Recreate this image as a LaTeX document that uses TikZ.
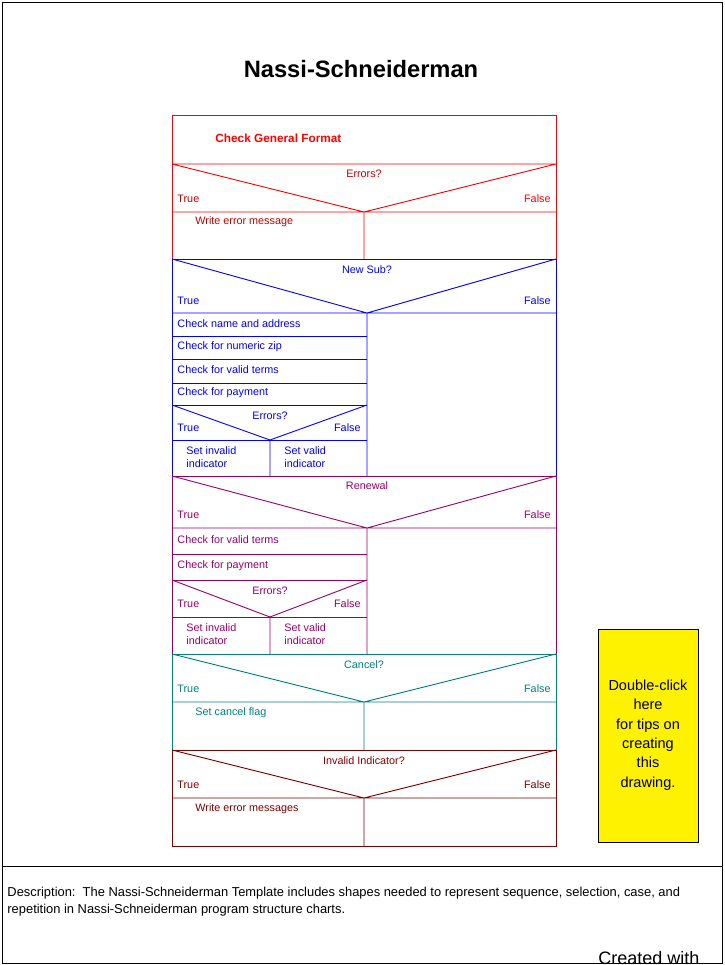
\documentclass[tikz,border=0pt]{standalone}
\usepackage{fontspec}
\setmainfont{Liberation Sans}
\begin{document}
\begin{tikzpicture}[x=1pt,y=-1pt,line width=0.9pt,
  lbl/.style={inner sep=0pt,font=\fontsize{10.8}{12.8}\selectfont},
  ll/.style={lbl,anchor=west},
  rr/.style={lbl,anchor=east},
  cc/.style={lbl,anchor=center},
  two/.style={lbl,anchor=north west,align=left}]
\useasboundingbox (0,0) rectangle (724,965);
\fill[white] (0,0) rectangle (724,965);
\draw[black] (2,2) rectangle (722,963);
\draw[black] (2,866) -- (722,866);
\node[cc,font=\fontsize{23.7}{26}\selectfont\bfseries] (title) at (361,69) {Nassi-Schneiderman};
% red
\begin{scope}[red]
\draw (172,115) rectangle (556,259);
\draw (172,164) -- (556,164) (172,164) -- (364,212) -- (556,164) (172,212) -- (556,212) (364,212) -- (364,259);
\node[ll,font=\fontsize{11.8}{13}\selectfont\bfseries] (cgf) at (215,138) {Check General Format};
\node[cc,text=red!75!black] (e1) at (364,174) {Errors?};
\node[ll,text=red!75!black] (t1) at (177,199) {True};
\node[rr] (f1) at (551,199) {False};
\node[ll,text=red!75!black] (w1) at (195,222) {Write error message};
\end{scope}
% blue
\begin{scope}[blue]
\draw (172,259) rectangle (556,476);
\draw (172,259) -- (367,313) -- (556,259) (172,313) -- (556,313) (367,313) -- (367,476);
\foreach \y in {336,359,383,405,440} \draw (172,\y) -- (367,\y);
\draw (172,405) -- (270,440) -- (367,405) (270,440) -- (270,476);
\node[cc] (ns) at (367,270) {New Sub?};
\node[ll] (t2) at (177,301) {True};
\node[rr] (f2) at (551,301) {False};
\node[ll] (b1) at (177,324) {Check name and address};
\node[ll] (b2) at (177,347) {Check for numeric zip};
\node[ll] (b3) at (177,370) {Check for valid terms};
\node[ll] (b4) at (177,393) {Check for payment};
\node[cc] (e2) at (270,416) {Errors?};
\node[ll] (t3) at (177,428) {True};
\node[rr] (f3) at (361,428) {False};
\node[two] (si2) at (186,446) {Set invalid\\indicator};
\node[two] (sv2) at (284,446) {Set valid\\indicator};
\end{scope}
% purple
\begin{scope}[violet!60!purple]
\draw (172,476) rectangle (556,654);
\draw (172,476) -- (367,528) -- (556,476) (172,528) -- (556,528) (367,528) -- (367,654);
\foreach \y in {554,580,617} \draw (172,\y) -- (367,\y);
\draw (172,580) -- (270,617) -- (367,580) (270,617) -- (270,654);
\node[cc] (rn) at (367,486) {Renewal};
\node[ll] (t4) at (177,515) {True};
\node[rr] (f4) at (551,515) {False};
\node[ll] (p1) at (177,540) {Check for valid terms};
\node[ll] (p2) at (177,566) {Check for payment};
\node[cc] (e3) at (270,591) {Errors?};
\node[ll] (t5) at (177,604) {True};
\node[rr] (f5) at (361,604) {False};
\node[two] (si3) at (186,623) {Set invalid\\indicator};
\node[two] (sv3) at (284,623) {Set valid\\indicator};
\end{scope}
% teal
\begin{scope}[teal]
\draw (172,654) rectangle (556,750);
\draw (172,654) -- (364,702) -- (556,654) (172,702) -- (556,702) (364,702) -- (364,750);
\node[cc] (cn) at (364,665) {Cancel?};
\node[ll] (t6) at (177,689) {True};
\node[rr] (f6) at (551,689) {False};
\node[ll] (scf) at (195,713) {Set cancel flag};
\end{scope}
% dark red
\begin{scope}[red!50!black]
\draw (172,750) rectangle (556,846);
\draw (172,750) -- (364,798) -- (556,750) (172,798) -- (556,798) (364,798) -- (364,846);
\node[cc] (ii) at (364,761) {Invalid Indicator?};
\node[ll] (t7) at (177,785) {True};
\node[rr] (f7) at (551,785) {False};
\node[ll] (wem) at (195,809) {Write error messages};
\end{scope}
% yellow
\draw[black,fill=yellow] (598,629) rectangle (698,842);
\node[cc,align=center,font=\fontsize{14.5}{19.3}\selectfont] (tip) at (648,735) {Double-click\\here\\for tips on\\creating\\this\\drawing.};
\node[ll,align=left,anchor=north west,font=\fontsize{12.9}{17}\selectfont] (desc) at (7,887) {Description:\ \ The Nassi-Schneiderman Template includes shapes needed to represent sequence, selection, case, and\\repetition in Nassi-Schneiderman program structure charts.};
\node[ll,anchor=north west,font=\fontsize{18}{20}\selectfont] (cw) at (598,951) {Created with};
\end{tikzpicture}
\end{document}
